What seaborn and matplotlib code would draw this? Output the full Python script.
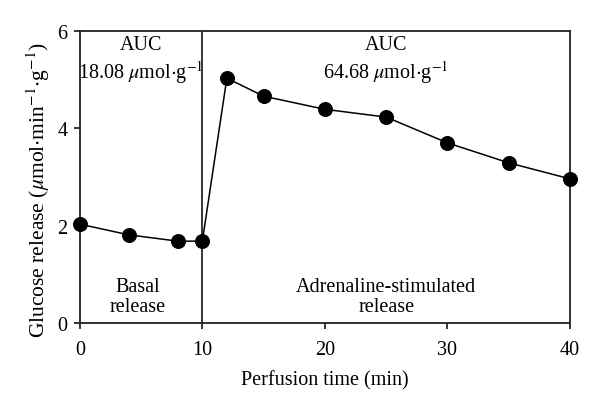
import numpy as np
import pandas as pd
import matplotlib.pyplot as plt
import seaborn as sns

sns.set_theme(context="paper", style="ticks", font_scale=1)
plt.rcParams["font.family"] = ["Liberation Serif", "DejaVu Serif"]
plt.rcParams["mathtext.fontset"] = "stix"
plt.rcParams["text.color"] = "black"
plt.rcParams["axes.labelcolor"] = "black"

# perfusion time (min) and glucose release values
time_min = [0, 4, 8, 10, 12, 15, 20, 25, 30, 35, 40]
glucose = [2.03, 1.81, 1.68, 1.68, 5.03, 4.66, 4.39, 4.23, 3.70, 3.29, 2.96]
basal_auc = "18.08"
adrenaline_auc = "64.68"

df = pd.DataFrame({"time": time_min, "glucose": glucose})

fig = plt.figure(figsize=(6, 4.1), dpi=100)
ax = fig.add_axes([0.133, 0.21, 0.817, 0.712])

sns.lineplot(data=df, x="time", y="glucose", ax=ax, color="black",
             marker="o", markersize=10, markeredgecolor="black",
             linewidth=1.1, clip_on=False, zorder=5)

# divider between basal and stimulated phases
ax.axvline(10, color="black", linewidth=1.1)

fs = 14.5
ax.set_xlim(0, 40)
ax.set_ylim(0, 6)
ax.set_xticks([0, 10, 20, 30, 40])
ax.set_yticks([0, 2, 4, 6])
ax.tick_params(direction="out", length=4, width=1.1, labelsize=fs,
               colors="black", pad=5)
ax.tick_params(axis="x", pad=8)
for s in ax.spines.values():
    s.set_linewidth(1.3)
    s.set_color("#222222")

ax.set_xlabel("Perfusion time (min)", fontsize=fs, labelpad=8)
ax.set_ylabel(r"Glucose release ($\mu$mol$\cdot$min$^{-1}$$\cdot$g$^{-1}$)",
              fontsize=15.5, labelpad=4)
ax.yaxis.label.set_y(0.46)

ax.text(5, 5.72, "AUC", ha="center", va="center", fontsize=fs)
ax.text(5, 5.17, basal_auc + r" $\mu$mol$\cdot$g$^{-1}$", ha="center",
        va="center", fontsize=fs)
ax.text(25, 5.72, "AUC", ha="center", va="center", fontsize=fs)
ax.text(25, 5.17, adrenaline_auc + r" $\mu$mol$\cdot$g$^{-1}$", ha="center",
        va="center", fontsize=fs)
ax.text(4.7, 0.75, "Basal", ha="center", va="center", fontsize=fs)
ax.text(4.7, 0.33, "release", ha="center", va="center", fontsize=fs)
ax.text(25, 0.75, "Adrenaline-stimulated", ha="center", va="center", fontsize=fs)
ax.text(25, 0.33, "release", ha="center", va="center", fontsize=fs)

fig.savefig("out.png", dpi=100)
